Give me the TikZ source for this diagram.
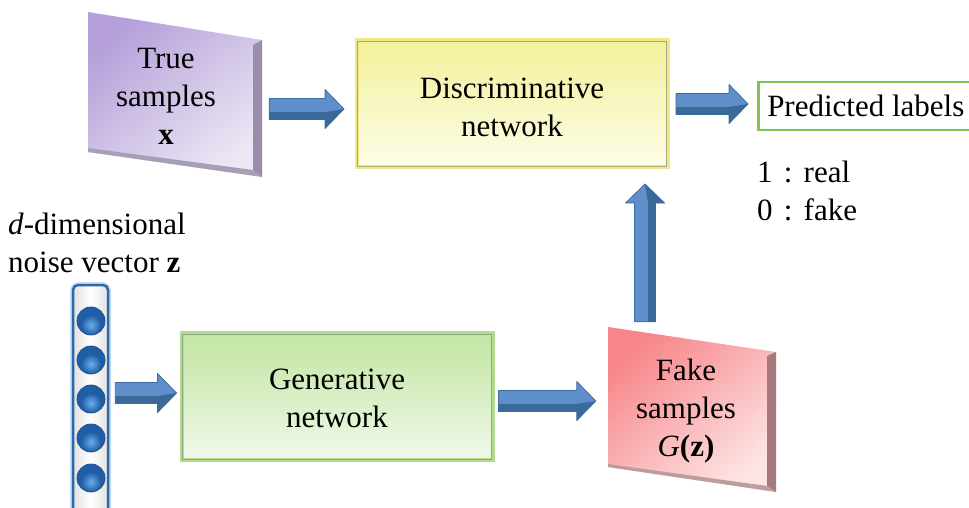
\documentclass[tikz,border=0pt]{standalone}
\usepackage{fontspec}
\setmainfont{Liberation Serif}
\usetikzlibrary{calc}

\definecolor{discTop}{HTML}{F3F09A}
\definecolor{discBot}{HTML}{FDFDE8}
\definecolor{discGlow}{HTML}{EFEA86}
\definecolor{discEdge}{HTML}{A9A77B}
\definecolor{genTop}{HTML}{C1E5A2}
\definecolor{genBot}{HTML}{F1F9E9}
\definecolor{genGlow}{HTML}{B3DB90}
\definecolor{genEdge}{HTML}{8FAA80}
\definecolor{trueTop}{HTML}{B5A0D9}
\definecolor{trueBot}{HTML}{ECE6F4}
\definecolor{trueSide}{HTML}{9A8CAD}
\definecolor{trueLow}{HTML}{A89FB6}
\definecolor{fakeTop}{HTML}{F7868A}
\definecolor{fakeBot}{HTML}{FDE4E4}
\definecolor{fakeSide}{HTML}{A57A7C}
\definecolor{fakeLow}{HTML}{BC9C9D}
\definecolor{arrMain}{HTML}{5E8FCB}
\definecolor{arrDark}{HTML}{3C6A98}
\definecolor{arrEdge}{HTML}{3D6C9E}
\definecolor{noiseBlue}{HTML}{2F68AA}
\definecolor{noiseGlow}{HTML}{C5DDF2}
\definecolor{ballDark}{HTML}{1F5DA6}
\definecolor{ballLight}{HTML}{6AB0EC}
\definecolor{predGreen}{HTML}{7CC357}

% block arrow from #1 to #2, bevelled on its right-hand side
\newcommand\blockarrow[2]{%
  \coordinate (ba-s) at #1;
  \coordinate (ba-e) at #2;
  \coordinate (ba-h) at ($(ba-e)!19pt!(ba-s)$);
  \fill[arrMain]
    ($(ba-s)!10.5pt!90:(ba-e)$) -- ($(ba-h)!10.5pt!90:(ba-e)$) --
    ($(ba-h)!19.5pt!90:(ba-e)$) -- (ba-e) --
    ($(ba-h)!19.5pt!-90:(ba-e)$) -- ($(ba-h)!10.5pt!-90:(ba-e)$) --
    ($(ba-s)!10.5pt!-90:(ba-e)$) -- cycle;
  \fill[arrDark]
    ($(ba-s)!3pt!-90:(ba-e)$) -- ($(ba-h)!3pt!-90:(ba-e)$) -- (ba-e) --
    ($(ba-h)!19.5pt!-90:(ba-e)$) -- ($(ba-h)!10.5pt!-90:(ba-e)$) --
    ($(ba-s)!10.5pt!-90:(ba-e)$) -- cycle;
  \draw[arrEdge, line width=0.8pt, line join=round]
    ($(ba-s)!10.5pt!90:(ba-e)$) -- ($(ba-h)!10.5pt!90:(ba-e)$) --
    ($(ba-h)!19.5pt!90:(ba-e)$) -- (ba-e) --
    ($(ba-h)!19.5pt!-90:(ba-e)$) -- ($(ba-h)!10.5pt!-90:(ba-e)$) --
    ($(ba-s)!10.5pt!-90:(ba-e)$) -- cycle;
}

\tikzset{
  txt/.style={font=\fontsize{31}{38}\selectfont, align=center, inner sep=0pt},
  netbox/.style={rectangle, minimum width=311pt, minimum height=127pt, line width=4pt},
}

\begin{document}
\begin{tikzpicture}[x=1pt, y=-1pt]
\useasboundingbox (0,0) rectangle (969,507);
\clip (0,0) rectangle (969,507);

% discriminative network
\node[netbox, top color=discTop, bottom color=discBot, draw=discGlow] (disc) at (512,103.5) {};
\draw[discEdge, line width=0.9pt] ($(disc.north west)+(3,3)$) rectangle ($(disc.south east)+(-3,-3)$);
\node[txt] (disc-text) at ($(disc.center)+(0,3.5)$) {Discriminative\\network};

% generative network
\node[netbox, top color=genTop, bottom color=genBot, draw=genGlow] (gen) at (337,396.5) {};
\draw[genEdge, line width=0.9pt] ($(gen.north west)+(3,3)$) rectangle ($(gen.south east)+(-3,-3)$);
\node[txt] (gen-text) at ($(gen.center)+(0,2)$) {Generative\\network};

% true samples panel
\shade[top color=trueTop, bottom color=trueBot, shading angle=40] (88,12) -- (262,40) -- (262,177) -- (88,152) -- cycle;
\fill[trueSide] (253,45) -- (262,40) -- (262,177) -- (253,170) -- cycle;
\fill[trueLow] (88,148) -- (253,170) -- (262,177) -- (88,152) -- cycle;
\node[txt, minimum width=192pt, minimum height=165pt] (true) at (166,96) {True\\samples\\\textbf{x}};

% fake samples panel
\shade[top color=fakeTop, bottom color=fakeBot, shading angle=40] (608,327) -- (776,352) -- (776,492) -- (608,467) -- cycle;
\fill[fakeSide] (767,356) -- (776,352) -- (776,492) -- (767,486) -- cycle;
\fill[fakeLow] (608,464) -- (767,486) -- (776,492) -- (608,467) -- cycle;
\node[txt, minimum width=184pt, minimum height=166pt] (fake) at (686,411) {Fake\\samples\\\textit{G}\textbf{(z)}};

% predicted labels
\node[txt, draw=predGreen, line width=2.5pt, anchor=west, minimum height=48pt, inner xsep=9pt] (pred) at (757,106) {Predicted labels};
\node[txt, align=left, anchor=north west] (legend) at (757,161) {1\makebox[31pt]{:}real\\0\makebox[31pt]{:}fake};

% noise vector
\draw[noiseGlow, line width=6pt, rounded corners=6pt] (73,285) rectangle (108,530);
\node[draw=noiseBlue, line width=2.5pt, rounded corners=5pt, minimum width=35pt, minimum height=240pt,
      left color=black!12, right color=black!12, middle color=white] (noise) at (90.5,405) {};
\foreach \cy in {321,360,399,438,478}{
  \fill[ballDark] (91,\cy) circle (14);
  \shade[inner color=ballLight, outer color=ballDark] (91,\cy+4) circle (10);
  \draw[noiseBlue!80!black, line width=0.8pt] (91,\cy) circle (14);
}
\node[txt, align=left, anchor=north west] (zlabel) at (8,213) {\textit{d}-dimensional\\noise vector \textbf{z}};

% connectors
\blockarrow{($(true.east)+(7,13)$)}{($(disc.west)+(-10.5,5.5)$)}
\blockarrow{($(disc.east)+(6.5,0.5)$)}{($(pred.west)+(-9,-2)$)}
\blockarrow{($(noise.east)+(6,-12)$)}{($(gen.west)+(-3,-3.5)$)}
\blockarrow{($(gen.east)+(4,4.5)$)}{($(fake.west)+(2,-10)$)}
\blockarrow{($(fake.north)+(-41,-6)$)}{($(disc.south)+(133,15)$)}
\end{tikzpicture}
\end{document}
